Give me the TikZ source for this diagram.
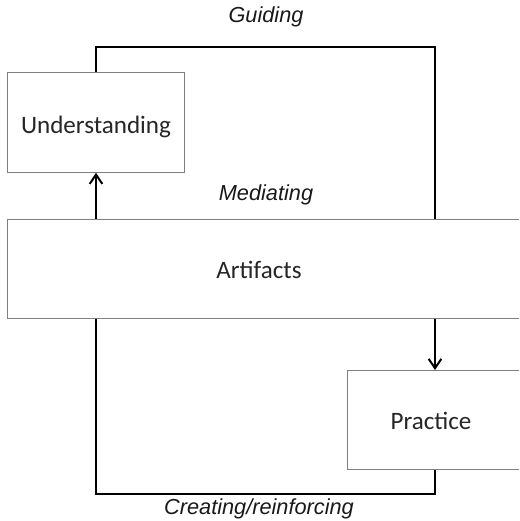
\documentclass[tikz,border=0pt]{standalone}
\usepackage{fontspec}
\setmainfont{Carlito}
\newfontfamily\labelfont{Liberation Sans}
\usetikzlibrary{arrows.meta}
\begin{document}
\begin{tikzpicture}[x=0.75pt,y=-0.75pt,
  box/.style={draw=black!50, line width=0.6pt, fill=white, rectangle, inner sep=0pt},
  boxtext/.style={font=\fontsize{18.8}{22}\selectfont, inner sep=0pt, text=black!85},
  flow/.style={line width=1.6pt, black},
  tip/.style={-{Straight Barb[length=7pt,width=9.5pt,line width=1.5pt]}},
  lbl/.style={font=\labelfont\itshape\fontsize{16.3}{19}\selectfont, inner sep=0pt, text=black!90}]
  \useasboundingbox (0,0) rectangle (519,521);
  \clip (0,0) rectangle (519,521);

  % main boxes
  \node[box, minimum width=177*0.75pt, minimum height=100*0.75pt, anchor=north west] (und) at (7,72) {};
  \node[boxtext] (undtext) at (96,127) {Understanding};
  \node[box, minimum width=530*0.75pt, minimum height=99*0.75pt, anchor=north west] (art) at (7,219) {};
  \node[boxtext] (arttext) at (259,270) {Artifacts};
  \node[box, minimum width=190*0.75pt, minimum height=99*0.75pt, anchor=north west] (pra) at (347,370) {};
  \node[boxtext] (pratext) at (431,421) {Practice};

  % turning points of the loop
  \coordinate (tl) at (96,47);
  \coordinate (tr) at (435,47);
  \coordinate (bl) at (96,494);
  \coordinate (br) at (435,494);

  % guiding: understanding over the top down to artifacts
  \draw[flow] (und.north -| tl) -- (tl) -- (tr) -- (art.north -| tr);
  % mediating: artifacts up to understanding, artifacts down to practice
  \draw[flow, tip] (art.north -| tl) -- (und.south -| tl);
  \draw[flow, tip] (art.south -| tr) -- (pra.north -| tr);
  % creating/reinforcing: practice along the bottom back to artifacts
  \draw[flow] (pra.south -| br) -- (br) -- (bl) -- (art.south -| bl);

  % labels
  \node[lbl] (guiding) at (266,17) {Guiding};
  \node[lbl] (mediating) at (266,195) {Mediating};
  \node[lbl] (creating) at (259,509) {Creating/reinforcing};
\end{tikzpicture}
\end{document}
